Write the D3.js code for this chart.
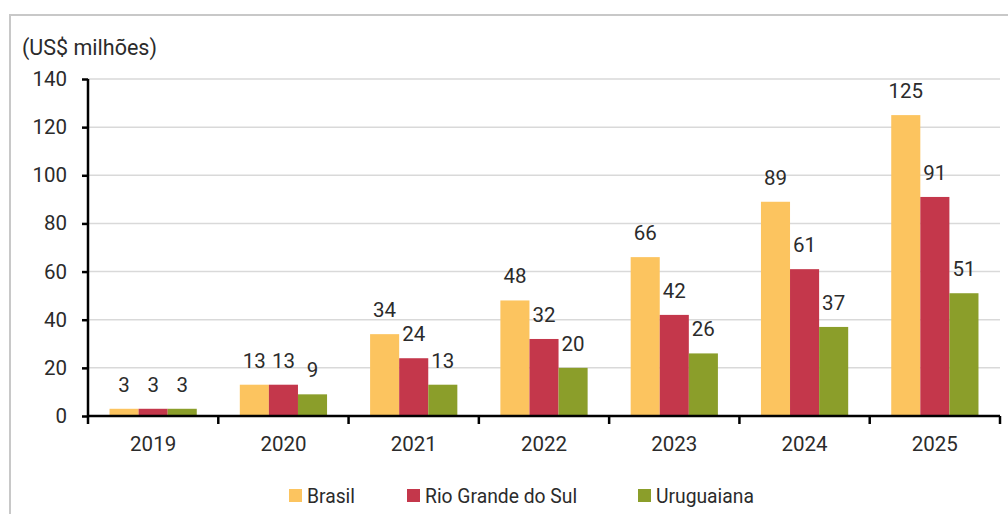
<!DOCTYPE html>
<html>
<head>
<meta charset="utf-8">
<script src="https://cdn.jsdelivr.net/npm/d3@7"></script>
<style>
  body { margin: 0; background: #fff; }
  svg text { font-family: Roboto, "Liberation Sans", sans-serif; fill: #2b2b2b; }
</style>
</head>
<body>
<div id="chart"></div>
<script>
// ---- data -----------------------------------------------------------------
const years      = ['2019', '2020', '2021', '2022', '2023', '2024', '2025'];
const seriesNames = ['Brasil', 'Rio Grande do Sul', 'Uruguaiana'];
const brasil     = [3, 13, 34, 48, 66, 89, 125];
const rioGrande  = [3, 13, 24, 32, 42, 61, 91];
const uruguaiana = [3, 9, 13, 20, 26, 37, 51];
const yTicks     = [0, 20, 40, 60, 80, 100, 120, 140];
const colors     = ['#fcc45f', '#c4374b', '#8b9e2a'];

const seriesValues = [brasil, rioGrande, uruguaiana];
const rows = years.map((y, i) => ({ year: y, values: seriesValues.map(s => s[i]) }));

// ---- layout ---------------------------------------------------------------
const W = 1008, H = 514;
const svg = d3.select('#chart').append('svg').attr('width', W).attr('height', H);

// outer frame (top + left only visible)
svg.append('path')
  .attr('d', 'M10,514 V15 H1008')
  .attr('fill', 'none').attr('stroke', '#c8c8c8').attr('stroke-width', 2);

const x0 = d3.scaleBand().domain(years).range([88, 1000]).paddingInner(0).paddingOuter(0);
const x1 = d3.scaleBand().domain(d3.range(seriesNames.length))
  .range([0, x0.bandwidth()]).paddingInner(0).paddingOuter(0.74);
const y  = d3.scaleLinear().domain([0, 140]).range([416, 79]);

// gridlines
svg.append('g').selectAll('line').data(yTicks.filter(t => t > 0)).join('line')
  .attr('x1', 88).attr('x2', 1000)
  .attr('y1', d => y(d)).attr('y2', d => y(d))
  .attr('stroke', '#d9d9d9').attr('stroke-width', 1.5);

// bars
const groups = svg.append('g').selectAll('g').data(rows).join('g')
  .attr('transform', d => `translate(${x0(d.year)},0)`);

groups.selectAll('rect').data(d => d.values).join('rect')
  .attr('x', (d, i) => x1(i))
  .attr('width', x1.bandwidth())
  .attr('y', d => y(d))
  .attr('height', d => y(0) - y(d))
  .attr('fill', (d, i) => colors[i]);

groups.selectAll('text').data(d => d.values).join('text')
  .attr('x', (d, i) => x1(i) + x1.bandwidth() / 2)
  .attr('y', d => y(d) - 17)
  .attr('text-anchor', 'middle')
  .style('font-size', '20.5px')
  .text(d => d);

// y axis
const yAxis = svg.append('g').attr('transform', 'translate(88,0)')
  .call(d3.axisLeft(y).tickValues(yTicks).tickSize(6).tickPadding(15));
yAxis.select('.domain').attr('stroke', '#000').attr('stroke-width', 2.5).attr('d', `M0,${y(140)}V${y(0)}`);
yAxis.selectAll('.tick line').attr('stroke', '#000').attr('stroke-width', 2.5);
yAxis.selectAll('.tick text').style('font-size', '20.5px').attr('fill', '#2b2b2b')
  .style('font-family', 'Roboto, sans-serif');

// x axis
const xAxis = svg.append('g');
xAxis.append('line').attr('x1', 88).attr('x2', 1000).attr('y1', y(0)).attr('y2', y(0))
  .attr('stroke', '#000').attr('stroke-width', 2.5);
const bounds = years.map(d => x0(d)).concat([x0.range()[1]]);
xAxis.selectAll('line.tk').data(bounds).join('line').attr('class', 'tk')
  .attr('x1', d => d).attr('x2', d => d).attr('y1', y(0)).attr('y2', y(0) + 8)
  .attr('stroke', '#000').attr('stroke-width', 2.5);
xAxis.selectAll('text').data(years).join('text')
  .attr('x', d => x0(d) + x0.bandwidth() / 2)
  .attr('y', 451)
  .attr('text-anchor', 'middle')
  .style('font-size', '20.5px')
  .text(d => d);

// unit label
svg.append('text').attr('x', 22).attr('y', 55).style('font-size', '21.5px').text('(US$ milhões)');

// legend
const legendX = [289, 407, 638];
const legend = svg.append('g').selectAll('g').data(seriesNames).join('g')
  .attr('transform', (d, i) => `translate(${legendX[i]},489)`);
legend.append('rect').attr('width', 13).attr('height', 13).attr('fill', (d, i) => colors[i]);
legend.append('text').attr('x', 18).attr('y', 14).style('font-size', '19.3px').text(d => d);
</script>
</body>
</html>
